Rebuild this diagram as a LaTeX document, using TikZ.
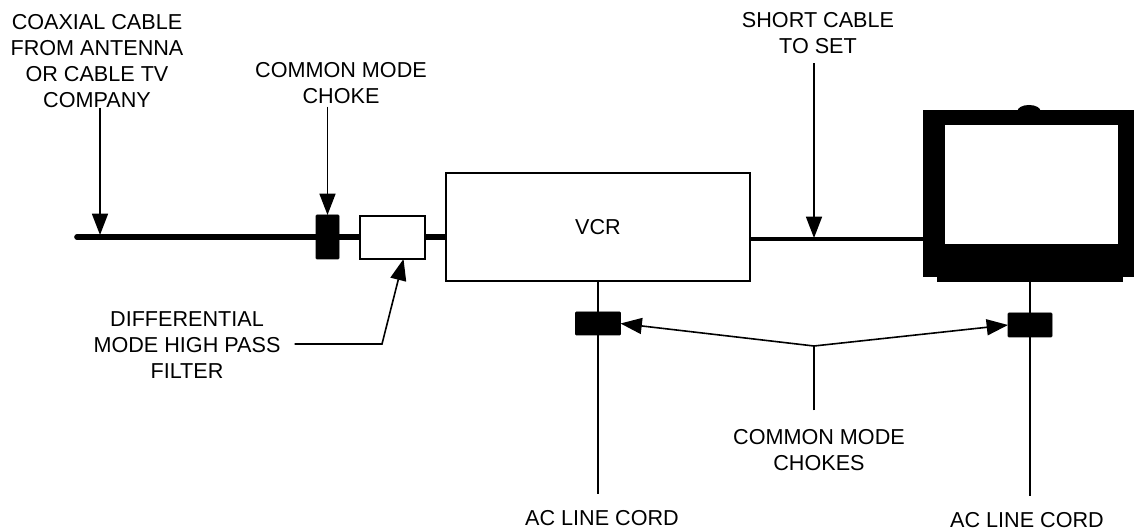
\documentclass[tikz,border=0pt]{standalone}
\usepackage{fontspec}
\setmainfont{Liberation Sans}
\usetikzlibrary{arrows.meta}
\newcommand{\px}[1]{#1*.75pt}

\begin{document}
\begin{tikzpicture}[x=.75pt,y=-.75pt,font=\fontsize{16.2}{19.4}\selectfont,
 box/.style={draw,line width=1.2pt,fill=white,inner sep=0pt,outer sep=0pt},
 solid/.style={fill=black,inner sep=0pt,outer sep=0pt},
 choke/.style={solid,draw,rounded corners=.6pt},
 lbl/.style={align=center,inner sep=0pt},
 cable/.style={line width=4.2pt},
 thincable/.style={line width=3.6pt},
 cord/.style={line width=1.2pt},
 arr/.style={line width=1.2pt,-{Triangle[length=16pt,width=12pt]}}]
\useasboundingbox (0,0) rectangle (1134,530);
% tv set
\fill[black] (1029,111) ellipse (11.5 and 6);
\node[solid,minimum width=\px{211},minimum height=\px{167},anchor=north west] (tvbody) at (923,110) {};
\node[solid,minimum width=\px{186},minimum height=\px{20},anchor=south east] (tvbase) at (1123,282) {};
\node[fill=white,inner sep=0pt,minimum width=\px{173},minimum height=\px{119},anchor=north west] (screen) at (945,125) {};
% boxes
\node[box,minimum width=\px{304},minimum height=\px{108},anchor=north west] (vcr) at (446,173) {VCR};
\node[box,minimum width=\px{65},minimum height=\px{43},anchor=north west] (filter) at (360,216) {};
\node[choke,minimum width=\px{23},minimum height=\px{44},anchor=north west] (choke) at (316,215) {};
\node[choke,minimum width=\px{45},minimum height=\px{23}] (chokevcr) at (598,323.5) {};
\node[choke,minimum width=\px{44},minimum height=\px{24}] (choketv) at (1030,325) {};
% labels
\node[lbl] (coaxlbl) at (97,61) {COAXIAL CABLE\\FROM ANTENNA\\OR CABLE TV\\COMPANY};
\node[lbl] (chokelbl) at (341,83) {COMMON MODE\\CHOKE};
\node[lbl] (shortlbl) at (818,33) {SHORT CABLE\\TO SET};
\node[lbl] (difflbl) at (187,345) {DIFFERENTIAL\\MODE HIGH PASS\\FILTER};
\node[lbl] (chokeslbl) at (819,450) {COMMON MODE\\CHOKES};
\node[lbl] (cordvcrlbl) at (602,518) {AC LINE CORD};
\node[lbl] (cordtvlbl) at (1027,520) {AC LINE CORD};
\coordinate (cablestart) at (77,237);
\coordinate (coaxpt) at (100,235);
\coordinate (shortpt) at (814,238);
\coordinate (setpt) at (750,239);
\coordinate (elbow) at (382,344);
\coordinate (join) at (814,346);
% connectors
\draw[cable,line cap=round] (cablestart) -- (cablestart-|choke.west);
\draw[cable] (choke.east|-cablestart) -- (filter.west|-cablestart);
\draw[cable] (filter.east|-cablestart) -- (vcr.west|-cablestart);
\draw[thincable] (setpt) -- (tvbody.west|-setpt);
\draw[cord] (vcr.south-|chokevcr) -- (chokevcr.north);
\draw[cord] (chokevcr.south) -- ([yshift=12pt]cordvcrlbl.north-|chokevcr);
\draw[cord] (tvbase.south-|choketv) -- (choketv.north);
\draw[cord] (choketv.south) -- ([yshift=12pt]cordtvlbl.north-|choketv);
\draw[arr] (coaxlbl.south-|coaxpt) -- (coaxpt);
\draw[arr] ([yshift=-2pt]chokelbl.south-|choke) -- (choke.north);
\draw[arr] ([yshift=-7pt]shortlbl.south-|shortpt) -- (shortpt);
\draw[arr] ([xshift=\px{14}]difflbl.east|-elbow) -- (elbow) -- ([xshift=\px{11}]filter.south);
\draw[arr] (join) -- (chokevcr.east);
\draw[arr] (join) -- (choketv.west);
\draw[cord] ([yshift=14pt]chokeslbl.north-|join) -- (join);
\end{tikzpicture}
\end{document}
